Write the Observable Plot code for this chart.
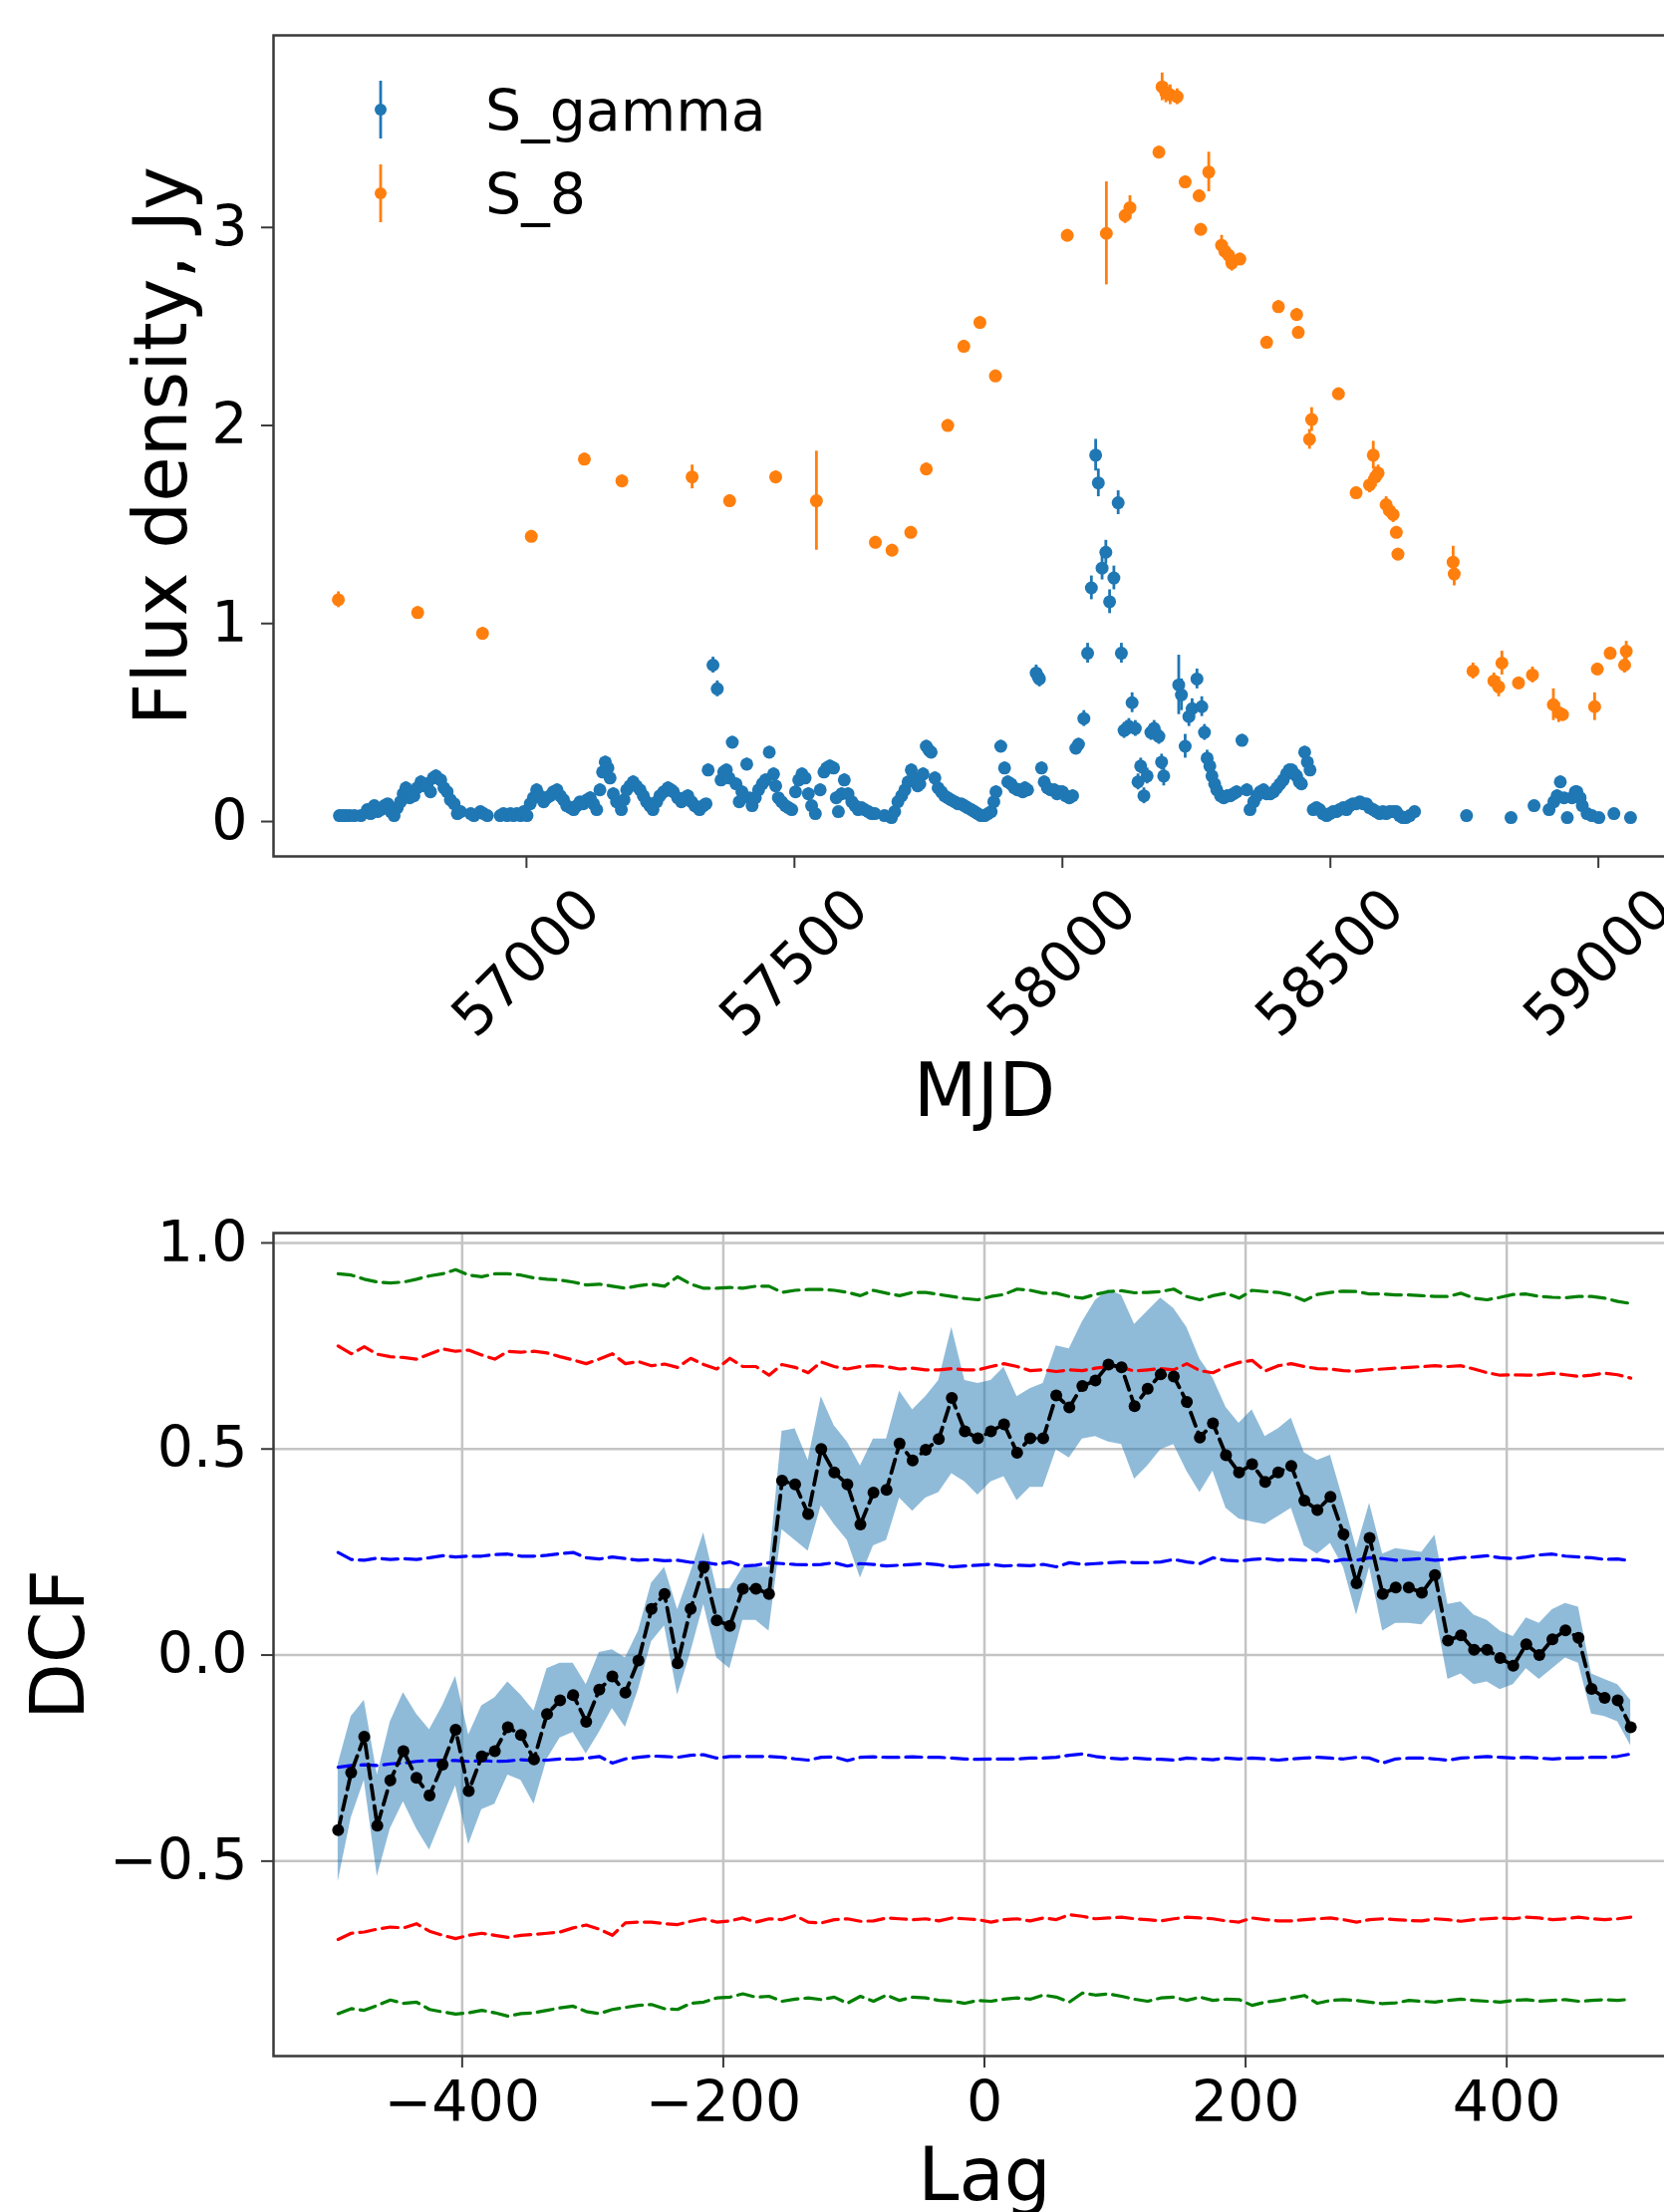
<!DOCTYPE html>
<html>
<head>
<meta charset="utf-8">
<script src="https://cdn.jsdelivr.net/npm/d3@7"></script>
<script src="https://cdn.jsdelivr.net/npm/@observablehq/plot@0.6"></script>
<style>
  html, body { margin: 0; padding: 0; background: #fff; overflow: hidden; }
  #wrap { position: relative; width: 1670px; height: 2220px; overflow: hidden; background: #fff; }
  #wrap > svg { position: absolute; left: 0; display: block; max-width: none !important; }
</style>
</head>
<body>
<div id="wrap"></div>
<script>
// ---------------- DATA: top panel (light curves) ----------------
// S_gamma: [MJD, flux (Jy), error]
const sGamma = [
  [56651,0.03,0.02],[56657,0.03,0.02],[56663,0.03,0.02],[56670,0.03,0.02],[56679,0.03,0.02],[56691,0.03,0.02],
  [56703,0.06,0.02],[56709,0.04,0.02],[56716,0.08,0.02],[56722,0.05,0.02],[56728,0.06,0.02],[56735,0.08,0.02],
  [56741,0.09,0.02],[56747,0.05,0.02],[56753,0.03,0.02],[56759,0.07,0.02],[56765,0.10,0.02],[56770,0.14,0.03],
  [56775,0.17,0.03],[56782,0.12,0.03],[56790,0.13,0.03],[56796,0.17,0.03],[56803,0.20,0.03],[56809,0.18,0.03],
  [56815,0.19,0.03],[56821,0.15,0.03],[56826,0.22,0.03],[56831,0.23,0.03],[56840,0.21,0.03],[56846,0.17,0.03],
  [56852,0.15,0.03],[56858,0.11,0.02],[56865,0.09,0.02],[56871,0.04,0.02],[56877,0.05,0.02],[56896,0.04,0.02],
  [56902,0.03,0.02],[56914,0.05,0.02],[56920,0.04,0.02],[56927,0.03,0.02],[56951,0.03,0.02],[56957,0.04,0.02],
  [56964,0.03,0.02],[56970,0.04,0.02],[56976,0.03,0.02],[56982,0.04,0.02],[56989,0.03,0.02],[56995,0.05,0.02],
  [57001,0.03,0.02],[57007,0.09,0.02],[57013,0.12,0.03],[57019,0.16,0.03],[57025,0.13,0.03],[57032,0.10,0.02],
  [57038,0.12,0.02],[57044,0.13,0.03],[57050,0.15,0.03],[57057,0.16,0.03],[57063,0.13,0.03],[57069,0.11,0.02],
  [57075,0.08,0.02],[57082,0.07,0.02],[57088,0.06,0.02],[57094,0.08,0.02],[57100,0.10,0.02],[57106,0.09,0.02],
  [57113,0.11,0.02],[57119,0.12,0.03],[57125,0.09,0.02],[57131,0.06,0.02],[57137,0.16,0.03],[57142,0.25,0.03],
  [57147,0.30,0.03],[57152,0.27,0.03],[57156,0.22,0.03],[57162,0.14,0.03],[57168,0.10,0.02],[57177,0.06,0.02],
  [57182,0.11,0.02],[57187,0.16,0.03],[57193,0.18,0.03],[57199,0.20,0.03],[57205,0.18,0.03],[57212,0.16,0.03],
  [57218,0.13,0.03],[57224,0.10,0.02],[57230,0.08,0.02],[57236,0.06,0.02],[57243,0.10,0.02],[57249,0.13,0.03],
  [57256,0.15,0.03],[57264,0.17,0.03],[57270,0.16,0.03],[57274,0.15,0.03],[57282,0.12,0.03],[57289,0.10,0.02],
  [57295,0.12,0.03],[57301,0.13,0.03],[57308,0.10,0.02],[57314,0.08,0.02],[57320,0.07,0.02],[57323,0.06,0.02],
  [57330,0.08,0.02],[57335,0.09,0.02],[57339,0.26,0.03],[57348,0.79,0.04],[57356,0.67,0.04],[57363,0.21,0.03],
  [57368,0.25,0.03],[57373,0.26,0.03],[57378,0.22,0.03],[57384,0.40,0.03],[57391,0.19,0.03],[57397,0.10,0.02],
  [57402,0.15,0.03],[57411,0.29,0.03],[57416,0.12,0.02],[57421,0.08,0.02],[57427,0.12,0.02],[57433,0.16,0.03],
  [57440,0.19,0.03],[57446,0.21,0.03],[57453,0.35,0.03],[57461,0.24,0.03],[57465,0.18,0.03],[57470,0.12,0.02],
  [57476,0.10,0.02],[57483,0.08,0.02],[57489,0.07,0.02],[57495,0.06,0.02],[57502,0.15,0.03],[57508,0.21,0.03],
  [57514,0.24,0.03],[57520,0.22,0.03],[57526,0.14,0.03],[57532,0.08,0.02],[57539,0.04,0.02],[57548,0.16,0.03],
  [57555,0.25,0.03],[57560,0.27,0.03],[57566,0.28,0.03],[57573,0.27,0.03],[57578,0.12,0.03],[57582,0.05,0.02],
  [57588,0.14,0.03],[57593,0.21,0.03],[57600,0.14,0.03],[57607,0.10,0.02],[57613,0.08,0.02],[57619,0.06,0.02],
  [57625,0.07,0.02],[57631,0.06,0.02],[57638,0.05,0.02],[57644,0.04,0.02],[57650,0.04,0.02],[57668,0.03,0.02],
  [57681,0.02,0.02],[57687,0.05,0.02],[57693,0.10,0.02],[57700,0.13,0.03],[57706,0.16,0.03],[57712,0.20,0.03],
  [57718,0.26,0.03],[57724,0.22,0.03],[57730,0.18,0.03],[57734,0.19,0.03],[57740,0.24,0.03],[57746,0.38,0.03],
  [57751,0.36,0.03],[57755,0.35,0.03],[57762,0.22,0.03],[57768,0.17,0.03],[57774,0.15,0.03],[57780,0.13,0.03],
  [57786,0.12,0.02],[57792,0.11,0.02],[57799,0.10,0.02],[57805,0.09,0.02],[57811,0.09,0.02],[57817,0.08,0.02],
  [57823,0.07,0.02],[57830,0.06,0.02],[57836,0.05,0.02],[57842,0.04,0.02],[57848,0.03,0.02],[57855,0.03,0.02],
  [57861,0.04,0.02],[57867,0.05,0.02],[57872,0.10,0.02],[57876,0.15,0.03],[57885,0.38,0.03],[57892,0.27,0.03],
  [57898,0.20,0.03],[57904,0.19,0.03],[57910,0.17,0.03],[57916,0.16,0.03],[57920,0.16,0.03],[57926,0.15,0.03],
  [57930,0.17,0.03],[57935,0.16,0.03],[57951,0.75,0.04],[57955,0.73,0.04],[57957,0.72,0.04],[57961,0.27,0.03],
  [57966,0.20,0.03],[57972,0.17,0.03],[57978,0.16,0.03],[57985,0.16,0.03],[57990,0.14,0.03],[57994,0.15,0.03],
  [58000,0.15,0.03],[58006,0.13,0.03],[58013,0.12,0.03],[58019,0.13,0.03],[58025,0.37,0.03],[58030,0.39,0.03],
  [58040,0.52,0.04],[58047,0.85,0.05],[58054,1.18,0.06],[58062,1.85,0.08],[58067,1.71,0.07],[58074,1.28,0.06],
  [58081,1.36,0.06],[58088,1.11,0.06],[58096,1.23,0.06],[58104,1.61,0.06],[58110,0.85,0.05],[58115,0.46,0.04],
  [58120,0.47,0.04],[58124,0.48,0.04],[58130,0.60,0.05],[58136,0.47,0.04],[58141,0.20,0.04],[58146,0.28,0.04],
  [58152,0.13,0.04],[58158,0.23,0.04],[58165,0.45,0.04],[58171,0.47,0.04],[58176,0.44,0.04],[58180,0.43,0.04],
  [58185,0.30,0.04],[58189,0.23,0.05],[58217,0.69,0.15],[58222,0.64,0.08],[58229,0.38,0.06],[58236,0.53,0.05],
  [58242,0.57,0.05],[58251,0.72,0.05],[58260,0.58,0.05],[58265,0.45,0.04],[58270,0.32,0.04],[58275,0.28,0.03],
  [58279,0.23,0.03],[58284,0.19,0.03],[58288,0.16,0.03],[58295,0.13,0.03],[58301,0.12,0.03],[58307,0.13,0.03],
  [58313,0.13,0.03],[58319,0.14,0.03],[58325,0.15,0.03],[58335,0.41,0.03],[58344,0.16,0.03],[58350,0.06,0.02],
  [58357,0.10,0.02],[58363,0.13,0.03],[58369,0.15,0.03],[58375,0.16,0.03],[58381,0.14,0.03],[58388,0.14,0.03],
  [58394,0.15,0.03],[58400,0.17,0.03],[58406,0.19,0.03],[58412,0.21,0.03],[58418,0.24,0.03],[58423,0.26,0.03],
  [58428,0.26,0.03],[58433,0.24,0.03],[58437,0.23,0.03],[58442,0.20,0.03],[58446,0.19,0.03],[58452,0.35,0.03],
  [58457,0.30,0.03],[58462,0.26,0.03],[58468,0.06,0.02],[58474,0.07,0.02],[58480,0.06,0.02],[58486,0.04,0.02],
  [58493,0.03,0.02],[58499,0.04,0.02],[58505,0.05,0.02],[58511,0.05,0.02],[58517,0.06,0.02],[58524,0.07,0.02],
  [58530,0.06,0.02],[58536,0.08,0.02],[58542,0.09,0.02],[58548,0.09,0.02],[58555,0.10,0.02],[58561,0.09,0.02],
  [58567,0.09,0.02],[58573,0.07,0.02],[58580,0.06,0.02],[58586,0.05,0.02],[58592,0.04,0.02],[58598,0.05,0.02],
  [58604,0.04,0.02],[58610,0.05,0.02],[58617,0.05,0.02],[58623,0.05,0.02],[58629,0.03,0.02],[58635,0.02,0.02],
  [58641,0.02,0.02],[58648,0.03,0.02],[58657,0.05,0.02],[58754,0.03,0.02],[58837,0.02,0.02],[58880,0.08,0.02],
  [58908,0.06,0.02],[58917,0.10,0.02],[58923,0.13,0.03],[58929,0.20,0.03],[58936,0.12,0.02],[58942,0.02,0.02],
  [58951,0.12,0.02],[58957,0.15,0.03],[58960,0.15,0.03],[58966,0.12,0.02],[58970,0.08,0.02],[58979,0.04,0.02],
  [58988,0.03,0.02],[59001,0.02,0.02],[59029,0.04,0.02],[59060,0.02,0.02]
];
// S_8: [MJD, flux (Jy), error]
const s8 = [
  [56649,1.12,0.04],[56797,1.055,0.03],[56918,0.95,0.03],[57009,1.44,0.03],[57108,1.83,0.03],[57178,1.72,0.03],
  [57309,1.74,0.06],[57379,1.62,0.03],[57465,1.74,0.03],[57541,1.62,0.25],[57651,1.41,0.03],[57682,1.37,0.03],
  [57717,1.46,0.03],[57746,1.78,0.03],[57786,2.00,0.03],[57816,2.40,0.03],[57846,2.52,0.03],[57875,2.25,0.03],
  [58009,2.96,0.03],[58082,2.97,0.26],[58117,3.06,0.04],[58126,3.10,0.06],[58180,3.38,0.03],[58186,3.71,0.07],
  [58193,3.68,0.05],[58201,3.67,0.05],[58214,3.66,0.04],[58229,3.23,0.03],[58255,3.16,0.03],[58258,2.99,0.03],
  [58273,3.28,0.10],[58297,2.91,0.05],[58303,2.88,0.04],[58310,2.86,0.04],[58316,2.82,0.04],[58331,2.84,0.03],
  [58381,2.42,0.03],[58403,2.60,0.03],[58437,2.56,0.03],[58440,2.47,0.03],[58461,1.93,0.05],[58465,2.03,0.06],
  [58515,2.16,0.03],[58548,1.66,0.03],[58573,1.70,0.04],[58580,1.85,0.07],[58584,1.74,0.05],[58589,1.76,0.04],
  [58604,1.60,0.04],[58610,1.57,0.04],[58617,1.55,0.04],[58623,1.46,0.03],[58626,1.35,0.03],[58729,1.31,0.08],
  [58731,1.25,0.06],[58766,0.76,0.04],[58805,0.71,0.04],[58814,0.68,0.05],[58820,0.80,0.06],[58851,0.70,0.03],
  [58877,0.74,0.04],[58916,0.59,0.08],[58926,0.55,0.05],[58933,0.54,0.03],[58993,0.58,0.07],[58998,0.77,0.03],
  [59022,0.85,0.03],[59049,0.79,0.04],[59052,0.86,0.05]
];
const mjdTicks = [57000, 57500, 58000, 58500, 59000];
const fluxTicks = [0, 1, 2, 3];
const seriesNames = ["S_gamma", "S_8"];

// ---------------- DATA: bottom panel (DCF) ----------------
const lags = [
  -495,-485,-475,-465,-455,-445,-435,-425,-415,-405,-395,-385,-375,-365,-355,-345,-335,-325,-315,-305,
  -295,-285,-275,-265,-255,-245,-235,-225,-215,-205,-195,-185,-175,-165,-155,-145,-135,-125,-115,-105,
  -95,-85,-75,-65,-55,-45,-35,-25,-15,-5,5,15,25,35,45,55,65,75,85,95,
  105,115,125,135,145,155,165,175,185,195,205,215,225,235,245,255,265,275,285,295,
  305,315,325,335,345,355,365,375,385,395,405,415,425,435,445,455,465,475,485,495
];
const dcf = [
  -0.425,-0.285,-0.198,-0.414,-0.304,-0.233,-0.298,-0.341,-0.266,-0.181,
  -0.330,-0.246,-0.233,-0.175,-0.194,-0.253,-0.143,-0.110,-0.097,-0.162,
  -0.084,-0.052,-0.091,-0.013,0.112,0.148,-0.020,0.112,0.213,0.084,
  0.071,0.161,0.161,0.148,0.423,0.414,0.342,0.500,0.443,0.414,
  0.317,0.394,0.401,0.513,0.472,0.498,0.524,0.624,0.543,0.526,
  0.543,0.560,0.491,0.526,0.526,0.630,0.601,0.653,0.666,0.705,
  0.698,0.604,0.646,0.681,0.676,0.614,0.528,0.562,0.485,0.443,
  0.463,0.420,0.443,0.459,0.375,0.352,0.384,0.293,0.174,0.284,
  0.148,0.164,0.164,0.151,0.194,0.035,0.048,0.013,0.013,-0.007,
  -0.026,0.026,0.000,0.038,0.060,0.042,-0.082,-0.104,-0.110,-0.175
];
const dcfHi = [
  -0.265,-0.149,-0.110,-0.291,-0.162,-0.091,-0.143,-0.181,-0.123,-0.052,
  -0.194,-0.123,-0.104,-0.065,-0.097,-0.136,-0.033,-0.020,-0.020,-0.072,
  0.006,0.013,-0.007,0.058,0.174,0.213,0.110,0.200,0.297,0.161,
  0.161,0.213,0.213,0.213,0.543,0.549,0.472,0.627,0.556,0.517,
  0.459,0.524,0.524,0.640,0.595,0.627,0.666,0.795,0.666,0.659,
  0.666,0.698,0.627,0.646,0.659,0.750,0.743,0.808,0.860,0.886,
  0.873,0.802,0.834,0.866,0.841,0.795,0.718,0.672,0.601,0.562,
  0.595,0.530,0.549,0.575,0.491,0.472,0.485,0.375,0.258,0.368,
  0.245,0.258,0.254,0.249,0.291,0.123,0.129,0.097,0.084,0.058,
  0.045,0.090,0.077,0.110,0.125,0.116,-0.046,-0.059,-0.072,-0.110
];
const dcfLo = [
  -0.550,-0.395,-0.304,-0.537,-0.421,-0.356,-0.421,-0.473,-0.395,-0.317,
  -0.460,-0.375,-0.362,-0.291,-0.304,-0.362,-0.253,-0.201,-0.188,-0.240,
  -0.188,-0.130,-0.175,-0.084,0.032,0.071,-0.097,0.006,0.123,-0.007,
  -0.033,0.084,0.084,0.058,0.304,0.278,0.252,0.362,0.317,0.278,
  0.187,0.265,0.278,0.381,0.349,0.381,0.394,0.440,0.420,0.388,
  0.420,0.433,0.375,0.407,0.407,0.498,0.478,0.524,0.530,0.517,
  0.511,0.427,0.459,0.498,0.511,0.446,0.394,0.446,0.356,0.330,
  0.323,0.317,0.336,0.356,0.265,0.245,0.271,0.213,0.097,0.213,
  0.058,0.077,0.077,0.073,0.110,-0.059,-0.046,-0.072,-0.065,-0.084,
  -0.072,-0.033,-0.059,-0.033,-0.007,-0.020,-0.143,-0.149,-0.162,-0.220
];
// significance levels (dashed)
const greenHi = [
  .925,.922,.912,.905,.903,.905,.912,.920,.925,.935,.922,.918,.925,.925,.922,.915,.912,.910,.905,.898,
  .900,.895,.890,.896,.900,.895,.918,.900,.890,.890,.892,.890,.895,.895,.880,.885,.887,.887,.885,.880,
  .872,.885,.878,.872,.880,.880,.875,.870,.865,.862,.870,.875,.888,.885,.878,.878,.870,.866,.875,.882,
  .884,.879,.880,.882,.888,.870,.862,.872,.878,.866,.885,.882,.880,.873,.860,.875,.880,.883,.882,.876,
  .876,.874,.874,.872,.870,.870,.878,.866,.862,.868,.875,.876,.870,.868,.867,.870,.870,.866,.858,.853
];
const redHi = [
  .750,.731,.748,.730,.724,.722,.718,.730,.743,.737,.740,.728,.718,.737,.735,.737,.733,.724,.716,.707,
  .718,.731,.707,.712,.702,.706,.698,.720,.705,.694,.720,.700,.700,.679,.705,.698,.685,.711,.700,.694,
  .700,.702,.700,.694,.696,.692,.692,.695,.692,.692,.700,.707,.700,.690,.692,.688,.692,.690,.696,.700,
  .698,.689,.692,.695,.692,.707,.690,.685,.700,.710,.715,.689,.702,.707,.700,.695,.694,.690,.689,.692,
  .694,.696,.698,.700,.702,.700,.702,.694,.685,.679,.680,.679,.680,.684,.680,.676,.679,.684,.680,.672
];
const blueHi = [
  .249,.232,.230,.235,.232,.234,.232,.236,.241,.238,.240,.240,.244,.245,.240,.240,.242,.246,.249,.236,
  .233,.238,.234,.230,.232,.229,.230,.225,.225,.220,.226,.216,.218,.224,.222,.220,.219,.220,.224,.216,
  .222,.220,.216,.218,.220,.222,.219,.214,.216,.218,.220,.216,.218,.217,.220,.214,.224,.220,.222,.224,
  .226,.224,.224,.226,.232,.226,.222,.236,.230,.228,.232,.234,.230,.232,.230,.232,.226,.232,.230,.236,
  .234,.230,.232,.234,.230,.232,.236,.238,.241,.236,.234,.238,.243,.245,.240,.238,.236,.232,.233,.229
];
const blueLo = [
  -.272,-.268,-.266,-.268,-.264,-.262,-.258,-.256,-.255,-.256,-.258,-.256,-.258,-.257,-.254,-.256,-.255,-.252,-.253,-.250,
  -.246,-.262,-.252,-.248,-.245,-.246,-.248,-.243,-.242,-.250,-.246,-.246,-.246,-.246,-.248,-.252,-.255,-.248,-.247,-.256,
  -.248,-.247,-.248,-.248,-.247,-.248,-.248,-.250,-.252,-.253,-.252,-.252,-.252,-.250,-.250,-.248,-.243,-.240,-.246,-.250,
  -.252,-.250,-.252,-.253,-.255,-.250,-.252,-.254,-.250,-.252,-.250,-.252,-.255,-.252,-.250,-.248,-.250,-.252,-.248,-.250,
  -.262,-.252,-.250,-.250,-.252,-.255,-.250,-.248,-.246,-.248,-.250,-.248,-.250,-.252,-.250,-.250,-.248,-.248,-.246,-.240
];
const redLo = [
  -.690,-.675,-.672,-.665,-.660,-.662,-.652,-.670,-.680,-.688,-.680,-.675,-.680,-.685,-.680,-.678,-.675,-.672,-.662,-.655,
  -.665,-.680,-.650,-.648,-.648,-.652,-.654,-.646,-.640,-.648,-.645,-.638,-.648,-.640,-.642,-.632,-.648,-.650,-.642,-.640,
  -.646,-.645,-.638,-.640,-.642,-.640,-.645,-.638,-.640,-.642,-.648,-.642,-.640,-.645,-.638,-.642,-.630,-.634,-.640,-.638,
  -.636,-.640,-.642,-.645,-.640,-.636,-.638,-.640,-.645,-.648,-.638,-.642,-.645,-.645,-.642,-.640,-.638,-.642,-.648,-.642,
  -.640,-.642,-.644,-.645,-.640,-.642,-.646,-.642,-.640,-.638,-.640,-.636,-.638,-.642,-.640,-.636,-.640,-.642,-.640,-.636
];
const greenLo = [
  -.870,-.858,-.862,-.850,-.837,-.845,-.842,-.860,-.866,-.871,-.868,-.862,-.868,-.876,-.870,-.868,-.862,-.856,-.852,-.865,
  -.870,-.860,-.855,-.850,-.848,-.858,-.860,-.845,-.842,-.832,-.830,-.822,-.830,-.828,-.840,-.835,-.832,-.836,-.830,-.845,
  -.828,-.840,-.825,-.838,-.830,-.832,-.838,-.840,-.845,-.838,-.840,-.835,-.832,-.835,-.825,-.830,-.842,-.820,-.825,-.822,
  -.828,-.835,-.840,-.832,-.830,-.838,-.830,-.838,-.835,-.836,-.850,-.842,-.838,-.832,-.826,-.845,-.838,-.836,-.838,-.842,
  -.846,-.844,-.838,-.840,-.842,-.838,-.835,-.838,-.840,-.842,-.838,-.836,-.840,-.838,-.836,-.840,-.838,-.836,-.838,-.835
];
const lagTicks = [-400, -200, 0, 200, 400];
const dcfTicks = [-0.5, 0, 0.5, 1.0];

// ---------------- STYLE ----------------
const BLUE = "#1f77b4", ORANGE = "#ff7f0e";
const FONT = "'DejaVu Sans', 'Liberation Sans', sans-serif";
const TICK = 57, LABEL = 74;
const SPINE = "#3a3a3a";
const minus = s => String(s).replace("-", "\u2212");
const svgStyle = {fontFamily: FONT, fontSize: TICK + "px", background: "white", color: "black", maxWidth: "none"};

// ---------------- TOP PANEL ----------------
const topPlot = Plot.plot({
  width: 1711, height: 1170,
  marginLeft: 274, marginRight: 10, marginTop: 35, marginBottom: 311,
  style: svgStyle,
  x: {domain: [56528, 59181]},
  y: {domain: [-0.176, 3.97]},
  marks: [
    Plot.ruleX(sGamma, {x: d => d[0], y1: d => d[1] - d[2], y2: d => d[1] + d[2], stroke: BLUE, strokeWidth: 2.8}),
    Plot.dot(sGamma, {x: d => d[0], y: d => d[1], r: 6.5, fill: BLUE, stroke: "none"}),
    Plot.ruleX(s8, {x: d => d[0], y1: d => d[1] - d[2], y2: d => d[1] + d[2], stroke: ORANGE, strokeWidth: 2.8}),
    Plot.dot(s8, {x: d => d[0], y: d => d[1], r: 6.5, fill: ORANGE, stroke: "none"}),
    Plot.axisY({ticks: fluxTicks, tickSize: 12, tickPadding: 14, tickFormat: d => String(d), fontSize: TICK, stroke: SPINE, strokeWidth: 2, label: null}),
    Plot.axisY({ticks: [], tickSize: 0, label: "Flux density, Jy", labelAnchor: "center", labelArrow: "none", labelOffset: 140, fontSize: LABEL}),
    Plot.axisX({ticks: mjdTicks, tickSize: 12, tickFormat: () => "", stroke: SPINE, strokeWidth: 2, label: null}),
    Plot.text(mjdTicks, {x: d => d, text: d => String(d), frameAnchor: "bottom", dy: 107, rotate: -45,
      textAnchor: "middle", lineAnchor: "middle", fontSize: TICK}),
    Plot.axisX({ticks: [], tickSize: 0, label: "MJD", labelAnchor: "center", labelArrow: "none", labelOffset: 260, fontSize: LABEL}),
    Plot.frame({stroke: SPINE, strokeWidth: 2.5})
  ]
});
topPlot.style.top = "0px";

// ---------------- BOTTOM PANEL ----------------
const rows = lags.map((lag, i) => ({
  lag, dcf: dcf[i], hi: dcfHi[i], lo: dcfLo[i],
  gHi: greenHi[i], rHi: redHi[i], bHi: blueHi[i], bLo: blueLo[i], rLo: redLo[i], gLo: greenLo[i]
}));
const sig = (key, color) => Plot.line(rows, {x: "lag", y: key, stroke: color, strokeWidth: 3.2, strokeDasharray: "16,7"});

const botPlot = Plot.plot({
  width: 1711, height: 1050,
  marginLeft: 274, marginRight: 10, marginTop: 67, marginBottom: 157,
  style: svgStyle,
  x: {domain: [-544.5, 544.5]},
  y: {domain: [-0.973, 1.024]},
  marks: [
    Plot.gridX({ticks: lagTicks, stroke: "#c4c4c4", strokeOpacity: 1, strokeWidth: 2.5}),
    Plot.gridY({ticks: dcfTicks, stroke: "#c4c4c4", strokeOpacity: 1, strokeWidth: 2.5}),
    Plot.areaY(rows, {x: "lag", y1: "lo", y2: "hi", fill: BLUE, fillOpacity: 0.5}),
    sig("gHi", "#008000"), sig("rHi", "#ff0000"), sig("bHi", "#0000ff"),
    sig("bLo", "#0000ff"), sig("rLo", "#ff0000"), sig("gLo", "#008000"),
    Plot.line(rows, {x: "lag", y: "dcf", stroke: "black", strokeWidth: 3.8, strokeDasharray: "14,7"}),
    Plot.dot(rows, {x: "lag", y: "dcf", r: 6, fill: "black", stroke: "none"}),
    Plot.axisY({ticks: dcfTicks, tickSize: 12, tickPadding: 14, tickFormat: d => minus(d.toFixed(1)), fontSize: TICK, stroke: SPINE, strokeWidth: 2, label: null}),
    Plot.axisY({ticks: [], tickSize: 0, label: "DCF", labelAnchor: "center", labelArrow: "none", labelOffset: 243, fontSize: LABEL}),
    Plot.axisX({ticks: lagTicks, tickSize: 12, tickPadding: 13, tickFormat: d => minus(d), fontSize: TICK, stroke: SPINE, strokeWidth: 2, label: null}),
    Plot.axisX({ticks: [], tickSize: 0, label: "Lag", labelAnchor: "center", labelArrow: "none", labelOffset: 144, fontSize: LABEL}),
    Plot.frame({stroke: SPINE, strokeWidth: 2.5})
  ]
});
botPlot.style.top = "1170px";

const wrap = document.getElementById("wrap");
wrap.appendChild(topPlot);
wrap.appendChild(botPlot);

// ---------------- LEGEND (overlay, matplotlib-style errorbar glyphs) ----------------
const legend = d3.create("svg")
  .attr("width", 900).attr("height", 260)
  .style("position", "absolute").style("left", "0px").style("top", "0px")
  .style("font-family", FONT);
const items = [
  {name: seriesNames[0], color: BLUE, cy: 110},
  {name: seriesNames[1], color: ORANGE, cy: 194}
];
for (const it of items) {
  legend.append("line").attr("x1", 382).attr("x2", 382).attr("y1", it.cy - 29).attr("y2", it.cy + 29)
    .attr("stroke", it.color).attr("stroke-width", 2.8);
  legend.append("circle").attr("cx", 382).attr("cy", it.cy).attr("r", 6).attr("fill", it.color);
  legend.append("text").attr("x", 487).attr("y", it.cy + 21).attr("font-size", TICK).attr("fill", "black").text(it.name);
}
wrap.appendChild(legend.node());
</script>
</body>
</html>
